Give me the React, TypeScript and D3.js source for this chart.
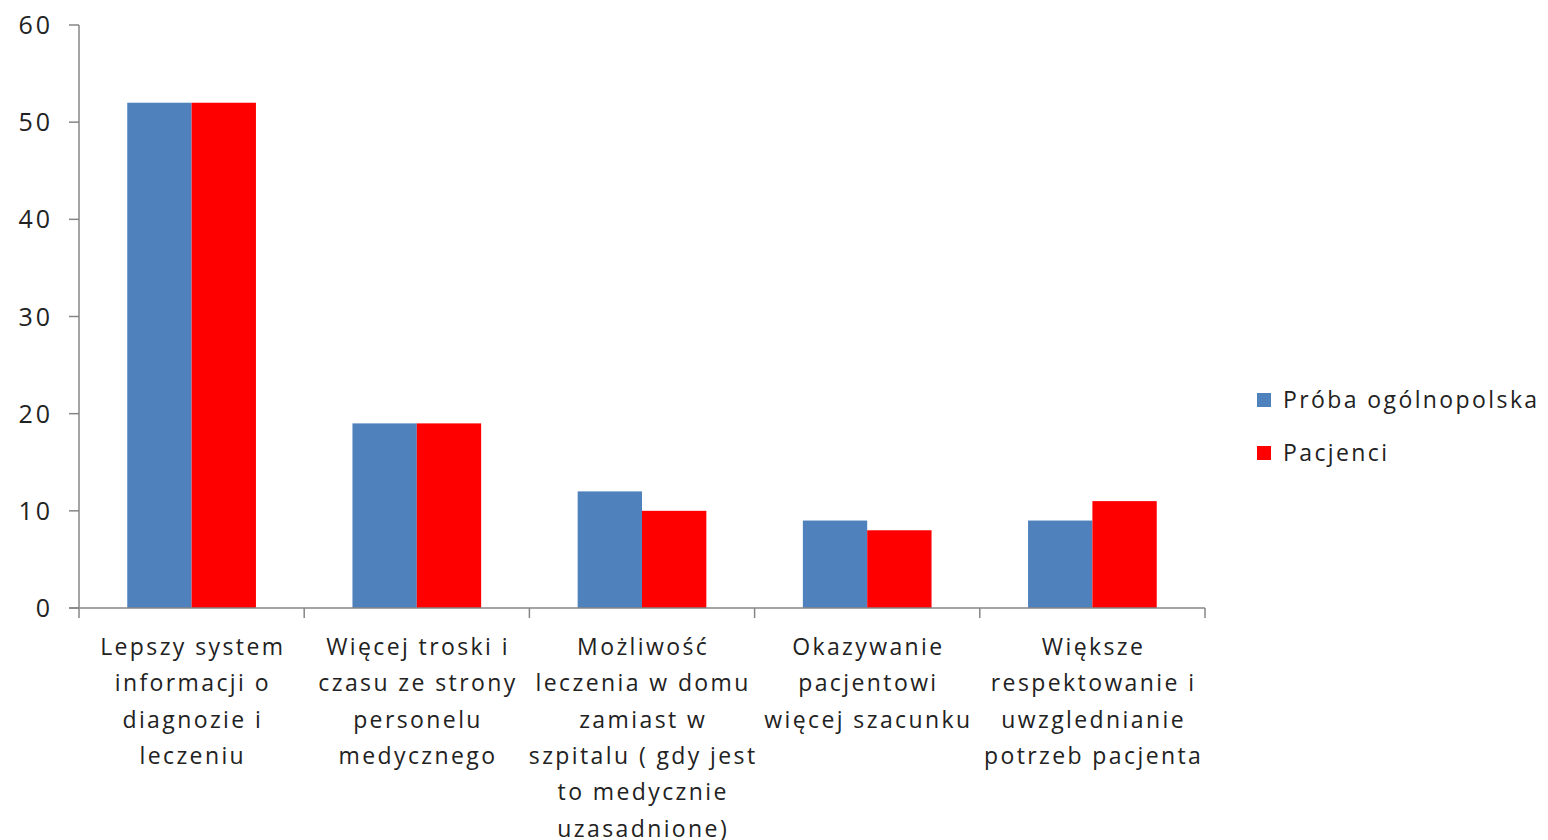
import React, { useEffect, useRef } from 'react';
import * as d3 from 'd3';

const categories: string[][] = [
  ['Lepszy system', 'informacji o', 'diagnozie i', 'leczeniu'],
  ['Więcej troski i', 'czasu ze strony', 'personelu', 'medycznego'],
  ['Możliwość', 'leczenia w domu', 'zamiast w', 'szpitalu ( gdy jest', 'to medycznie', 'uzasadnione)'],
  ['Okazywanie', 'pacjentowi', 'więcej szacunku'],
  ['Większe', 'respektowanie i', 'uwzglednianie', 'potrzeb pacjenta'],
];
const seriesNames = ['Próba ogólnopolska', 'Pacjenci'];
const proba = [52, 19, 12, 9, 9];
const pacjenci = [52, 19, 10, 8, 11];
const yTicks = [0, 10, 20, 30, 40, 50, 60];
const colors = ['#4F81BD', '#FF0000'];

const W = 1548;
const H = 840;
const FONT = '"Open Sans", sans-serif';
const LS = 2.4; // letter spacing to mimic the stretched original type

const App: React.FC = () => {
  const svgRef = useRef<SVGSVGElement | null>(null);

  useEffect(() => {
    if (!svgRef.current) return;
    const svg = d3.select(svgRef.current);
    svg.selectAll('*').remove();

    const left = 79, right = 1205, top = 25, bottom = 608;
    const idx = categories.map((_, i) => String(i));

    const x = d3.scaleBand().domain(idx).range([left, right]).paddingInner(0).paddingOuter(0);
    const inner = d3.scaleBand().domain(['0', '1']).range([0, x.bandwidth()]).paddingOuter(0.75).paddingInner(0);
    const y = d3.scaleLinear().domain([0, 60]).range([bottom, top]);

    const axisColor = '#868686';

    // bars
    const series = [proba, pacjenci];
    series.forEach((vals, s) => {
      svg.append('g')
        .selectAll('rect')
        .data(vals)
        .join('rect')
        .attr('x', (_, i) => (x(String(i)) as number) + (inner(String(s)) as number))
        .attr('width', inner.bandwidth())
        .attr('y', d => y(d))
        .attr('height', d => y(0) - y(d))
        .attr('fill', colors[s]);
    });

    // y axis
    const gy = svg.append('g');
    gy.append('line')
      .attr('x1', left).attr('x2', left)
      .attr('y1', y(60)).attr('y2', y(0))
      .attr('stroke', axisColor).attr('stroke-width', 1.5);
    gy.selectAll('line.t')
      .data(yTicks)
      .join('line')
      .attr('class', 't')
      .attr('x1', left - 10).attr('x2', left)
      .attr('y1', d => y(d)).attr('y2', d => y(d))
      .attr('stroke', axisColor).attr('stroke-width', 1.5);
    gy.selectAll('text')
      .data(yTicks)
      .join('text')
      .attr('x', 50 + 3)
      .attr('y', d => y(d))
      .attr('dy', '0.36em')
      .attr('text-anchor', 'end')
      .attr('font-family', FONT)
      .attr('font-size', 25)
      .attr('letter-spacing', 3)
      .attr('fill', '#222')
      .text(d => d);

    // x axis
    const gx = svg.append('g');
    gx.append('line')
      .attr('x1', left - 10).attr('x2', right)
      .attr('y1', bottom).attr('y2', bottom)
      .attr('stroke', axisColor).attr('stroke-width', 1.5);
    const bounds = idx.map(i => x(i) as number).concat([right]);
    gx.selectAll('line.t')
      .data(bounds)
      .join('line')
      .attr('class', 't')
      .attr('x1', d => d).attr('x2', d => d)
      .attr('y1', bottom).attr('y2', bottom + 10)
      .attr('stroke', axisColor).attr('stroke-width', 1.5);

    gx.selectAll('text')
      .data(categories)
      .join('text')
      .attr('font-family', FONT)
      .attr('font-size', 23)
      .attr('letter-spacing', LS)
      .attr('fill', '#222')
      .attr('text-anchor', 'middle')
      .each(function (lines, i) {
        const cx = (x(String(i)) as number) + x.bandwidth() / 2 + LS / 2;
        d3.select(this).selectAll('tspan')
          .data(lines)
          .join('tspan')
          .attr('x', cx)
          .attr('y', (_, j) => 655 + j * 36.3)
          .text(d => d);
      });

    // legend
    const lg = svg.append('g');
    const legY = [400, 453];
    seriesNames.forEach((name, s) => {
      lg.append('rect')
        .attr('x', 1257).attr('y', legY[s] - 7)
        .attr('width', 14).attr('height', 14)
        .attr('fill', colors[s]);
      lg.append('text')
        .attr('x', 1283).attr('y', legY[s])
        .attr('dy', '0.36em')
        .attr('font-family', FONT)
        .attr('font-size', 23)
        .attr('letter-spacing', LS)
        .attr('fill', '#222')
        .text(name);
    });
  }, []);

  return (
    <svg
      ref={svgRef}
      width={W}
      height={H}
      style={{ position: 'absolute', left: 0, top: 0, background: '#fff' }}
    />
  );
};

export default App;
